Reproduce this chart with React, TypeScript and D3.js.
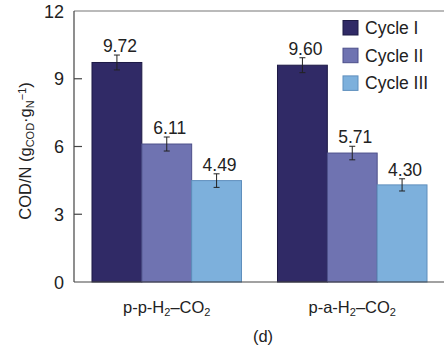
import React from "react";
import * as d3 from "d3";

const groups = ["p-p-H2-CO2", "p-a-H2-CO2"];
const series = ["Cycle I", "Cycle II", "Cycle III"];
const cycle1 = [9.72, 9.6];
const cycle2 = [6.11, 5.71];
const cycle3 = [4.49, 4.3];
const err1 = [0.33, 0.33];
const err2 = [0.31, 0.3];
const err3 = [0.3, 0.27];
const labels1 = ["9.72", "9.60"];
const labels2 = ["6.11", "5.71"];
const labels3 = ["4.49", "4.30"];
const yTicks = [0, 3, 6, 9, 12];
const colors = ["#302a66", "#6f73b1", "#7db0dc"];
const strokes = ["#1d1a45", "#4c4f8a", "#5f8fbd"];

const W = 444;
const H = 352;
const left = 74;
const top = 11;
const bottom = 282;
const FONT = "'Liberation Sans', Arial, sans-serif";

export default function App() {
  const x = d3.scaleBand<string>().domain(groups).range([left, 445]).paddingInner(0.194).paddingOuter(0.097);
  const xs = d3.scaleBand<string>().domain(series).range([0, x.bandwidth()]);
  const y = d3.scaleLinear().domain([0, 12]).range([bottom, top]);
  const vals = [cycle1, cycle2, cycle3];
  const errs = [err1, err2, err3];
  const labs = [labels1, labels2, labels3];

  const subName = (g: string) => {
    const prefix = g.startsWith("p-p") ? "p-p-H" : "p-a-H";
    return (
      <>
        {prefix}
        <tspan baselineShift="-25%" fontSize="11">2</tspan>
        <tspan>–CO</tspan>
        <tspan baselineShift="-25%" fontSize="11">2</tspan>
      </>
    );
  };

  return (
    <svg width={W} height={H} style={{ position: "absolute", left: 0, top: 0, background: "#fff" }} fontFamily={FONT}>
      <rect x={0} y={0} width={W} height={H} fill="#fff" />
      {/* bars */}
      {series.map((s, si) =>
        groups.map((g, gi) => {
          const bx = (x(g) as number) + (xs(s) as number);
          const bw = xs.bandwidth();
          const v = vals[si][gi];
          const e = errs[si][gi];
          const cx = bx + bw / 2;
          return (
            <g key={s + g}>
              <rect x={bx} y={y(v)} width={bw} height={bottom - y(v)} fill={colors[si]} stroke={strokes[si]} strokeWidth={1} />
              <line x1={cx} x2={cx} y1={y(v + e)} y2={y(v - e)} stroke="#222" strokeWidth={1} />
              <line x1={cx - 3} x2={cx + 3} y1={y(v + e)} y2={y(v + e)} stroke="#222" strokeWidth={1} />
              <line x1={cx - 3} x2={cx + 3} y1={y(v - e)} y2={y(v - e)} stroke="#222" strokeWidth={1} />
              <text x={cx + 3} y={y(v + e) - 3} textAnchor="middle" fontSize={17.5} fill="#222">
                {labs[si][gi]}
              </text>
            </g>
          );
        })
      )}
      {/* axes frame */}
      <line x1={left} x2={W} y1={top} y2={top} stroke="#777" strokeWidth={1.2} />
      <line x1={left} x2={left} y1={top} y2={bottom} stroke="#444" strokeWidth={1.2} />
      <line x1={left} x2={W} y1={bottom} y2={bottom} stroke="#444" strokeWidth={1.2} />
      {yTicks.map((t) => (
        <g key={t}>
          {t !== 0 && t !== 12 && <line x1={left} x2={left + 8} y1={y(t)} y2={y(t)} stroke="#444" strokeWidth={1.2} />}
          <text x={64} y={y(t) + 6.5} textAnchor="end" fontSize={18} fill="#222">
            {t}
          </text>
        </g>
      ))}
      {/* y label */}
      <text transform={`translate(31,151) rotate(-90)`} textAnchor="middle" fontSize={16.5} fill="#222">
        COD/N (g
        <tspan baselineShift="-25%" fontSize="11">COD</tspan>
        <tspan baselineShift="0">·g</tspan>
        <tspan baselineShift="-25%" fontSize="11">N</tspan>
        <tspan baselineShift="45%" fontSize="11">−1</tspan>
        <tspan baselineShift="0">)</tspan>
      </text>
      {/* x labels */}
      {groups.map((g) => (
        <text key={g} x={(x(g) as number) + x.bandwidth() / 2} y={313} textAnchor="middle" fontSize={16.5} fill="#222">
          {subName(g)}
        </text>
      ))}
      <text x={263} y={342} textAnchor="middle" fontSize={16.5} fill="#222">(d)</text>
      {/* legend */}
      {series.map((s, i) => (
        <g key={s}>
          <rect x={343} y={20.5 + i * 27.7} width={15} height={14.5} fill={colors[i]} stroke={strokes[i]} strokeWidth={1} />
          <text x={365} y={34 + i * 27.7} fontSize={17.5} fill="#222">{s}</text>
        </g>
      ))}
    </svg>
  );
}
